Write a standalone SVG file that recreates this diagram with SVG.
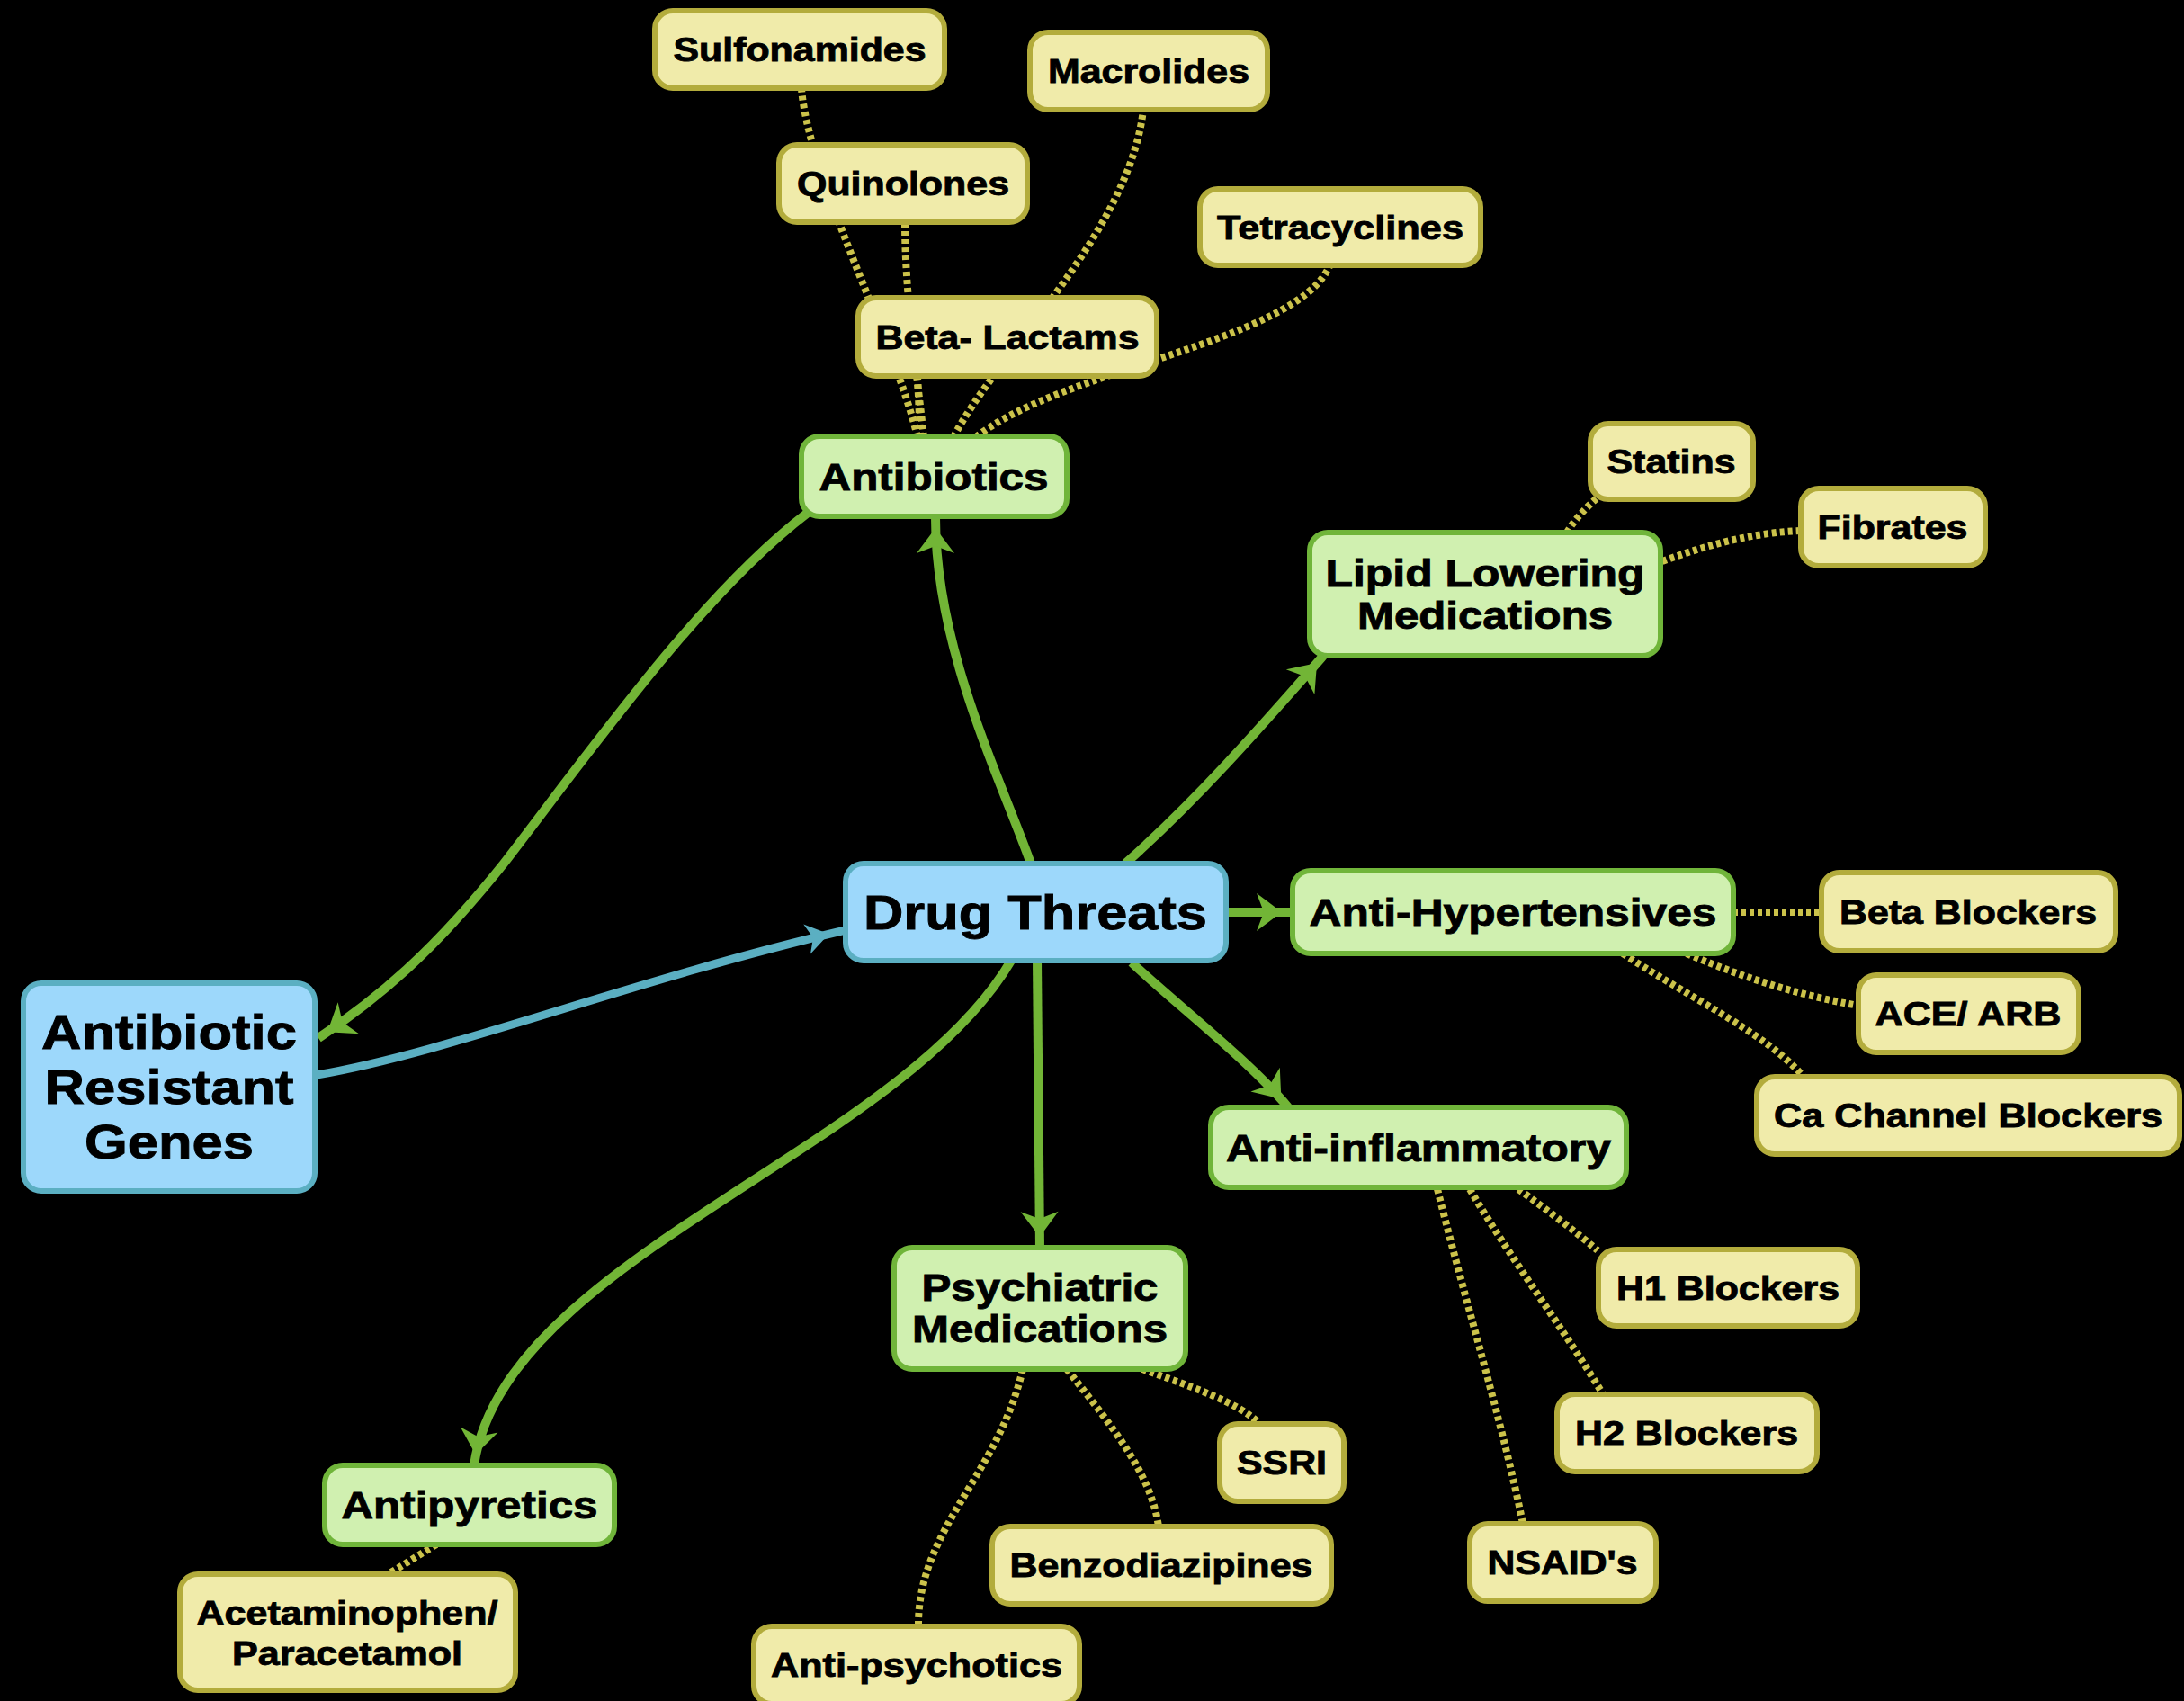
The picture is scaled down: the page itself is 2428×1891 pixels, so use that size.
<svg xmlns="http://www.w3.org/2000/svg" width="2428" height="1891" viewBox="0 0 2428 1891">
<defs>
<style>
text{font-family:"Liberation Sans",Arial,Helvetica,sans-serif;font-weight:bold;fill:#000;stroke:#000;stroke-width:0.9;text-anchor:middle}
.y rect{fill:#F0EBAA;stroke:#B3AC3C;stroke-width:6}
.g rect{fill:#D0F0B0;stroke:#70B53A;stroke-width:6}
.b rect{fill:#9DD8FB;stroke:#5BAFC2;stroke-width:6}
.y text{font-size:37px}
.g text{font-size:42px}
.b text{font-size:53px}
.gl{fill:none;stroke:#72B536;stroke-width:10;marker-end:url(#ag)}
.tl{fill:none;stroke:#5BAFC2;stroke-width:9;marker-end:url(#at)}
.dl{fill:none;stroke:#CBC24A;stroke-width:8;stroke-dasharray:5 4}
</style>
<marker id="ag" markerUnits="userSpaceOnUse" markerWidth="60" markerHeight="60" refX="40" refY="0" orient="auto" overflow="visible"><path d="M0,-21 L28,0 L0,21 L8,0 Z" fill="#72B536"/></marker>
<marker id="at" markerUnits="userSpaceOnUse" markerWidth="60" markerHeight="60" refX="44" refY="0" orient="auto" overflow="visible"><path d="M0,-17 L25,0 L0,17 L7,0 Z" fill="#5BAFC2"/></marker>
</defs>
<rect width="2428" height="1891" fill="#000"/>
<g id="connectors">
<path class="dl" d="M1020,486 C995,380 900,200 891,99"/>
<path class="dl" d="M1027,486 C1020,420 1006,330 1006,248"/>
<path class="dl" d="M1023,486 L1020,418"/>
<path class="dl" d="M1060,486 C1110,390 1255,260 1271,122"/>
<path class="dl" d="M1085,486 C1180,410 1440,380 1478,296"/>
<path class="dl" d="M1742,592 C1752,575 1765,563 1776,553"/>
<path class="dl" d="M1848,624 C1900,605 1950,592 2002,590"/>
<path class="dl" d="M1927,1014 L2025,1014"/>
<path class="dl" d="M1875,1060 C1950,1092 2010,1108 2066,1118"/>
<path class="dl" d="M1804,1060 C1880,1110 1965,1150 2005,1197"/>
<path class="dl" d="M1688,1322 C1720,1345 1750,1368 1776,1390"/>
<path class="dl" d="M1634,1322 C1680,1400 1740,1480 1782,1550"/>
<path class="dl" d="M1598,1322 C1630,1450 1670,1580 1693,1694"/>
<path class="dl" d="M1270,1522 C1320,1540 1380,1560 1400,1583"/>
<path class="dl" d="M1186,1522 C1240,1590 1280,1640 1288,1697"/>
<path class="dl" d="M1137,1522 C1110,1640 1020,1700 1021,1808"/>
<path class="dl" d="M485,1717 L430,1751"/>
<path class="gl" d="M1146,960 C1110,860 1040,720 1040,575"/>
<path class="gl" d="M1251,960 C1330,890 1400,810 1472,728"/>
<path class="gl" d="M1363,1014 L1437,1014"/>
<path class="gl" d="M1258,1070 C1300,1110 1390,1180 1432,1231"/>
<path class="gl" d="M1153,1068 L1156,1387"/>
<path class="gl" d="M1124,1068 C1000,1280 560,1400 527,1629"/>
<path class="gl" d="M898,570 C780,660 660,830 560,960 C480,1060 420,1110 354,1154"/>
<path class="tl" d="M352,1195 C500,1170 700,1090 940,1034"/>
</g>
<g id="arg" class="b"><rect x="26" y="1093" width="324" height="231" rx="20"/>
<text x="188" y="1166" textLength="284" lengthAdjust="spacingAndGlyphs">Antibiotic</text>
<text x="188" y="1227" textLength="277" lengthAdjust="spacingAndGlyphs">Resistant</text>
<text x="188" y="1288" textLength="188" lengthAdjust="spacingAndGlyphs">Genes</text></g>
<g id="drug-threats" class="b"><rect x="940" y="960" width="423" height="108" rx="20"/>
<text x="1151" y="1033" textLength="382" lengthAdjust="spacingAndGlyphs">Drug Threats</text></g>
<g id="antibiotics" class="g"><rect x="891" y="485" width="295" height="89" rx="20"/>
<text x="1038" y="545" textLength="255" lengthAdjust="spacingAndGlyphs">Antibiotics</text></g>
<g id="lipid" class="g"><rect x="1456" y="592" width="390" height="137" rx="20"/>
<text x="1651" y="652" textLength="355" lengthAdjust="spacingAndGlyphs">Lipid Lowering</text>
<text x="1651" y="699" textLength="284" lengthAdjust="spacingAndGlyphs">Medications</text></g>
<g id="anti-hypertensives" class="g"><rect x="1437" y="968" width="490" height="92" rx="20"/>
<text x="1682" y="1029" textLength="453" lengthAdjust="spacingAndGlyphs">Anti-Hypertensives</text></g>
<g id="anti-inflammatory" class="g"><rect x="1346" y="1231" width="462" height="89" rx="20"/>
<text x="1577" y="1291" textLength="428" lengthAdjust="spacingAndGlyphs">Anti-inflammatory</text></g>
<g id="psychiatric" class="g"><rect x="994" y="1387" width="324" height="135" rx="20"/>
<text x="1156" y="1446" textLength="263" lengthAdjust="spacingAndGlyphs">Psychiatric</text>
<text x="1156" y="1492" textLength="284" lengthAdjust="spacingAndGlyphs">Medications</text></g>
<g id="antipyretics" class="g"><rect x="361" y="1629" width="322" height="88" rx="20"/>
<text x="522" y="1688" textLength="285" lengthAdjust="spacingAndGlyphs">Antipyretics</text></g>
<g id="sulfonamides" class="y"><rect x="728" y="12" width="322" height="86" rx="20"/>
<text x="889" y="68" textLength="281" lengthAdjust="spacingAndGlyphs">Sulfonamides</text></g>
<g id="macrolides" class="y"><rect x="1145" y="36" width="264" height="86" rx="20"/>
<text x="1277" y="92" textLength="224" lengthAdjust="spacingAndGlyphs">Macrolides</text></g>
<g id="quinolones" class="y"><rect x="866" y="161" width="276" height="86" rx="20"/>
<text x="1004" y="217" textLength="236" lengthAdjust="spacingAndGlyphs">Quinolones</text></g>
<g id="tetracyclines" class="y"><rect x="1334" y="210" width="312" height="85" rx="20"/>
<text x="1490" y="266" textLength="274" lengthAdjust="spacingAndGlyphs">Tetracyclines</text></g>
<g id="beta-lactams" class="y"><rect x="954" y="331" width="332" height="87" rx="20"/>
<text x="1120" y="388" textLength="293" lengthAdjust="spacingAndGlyphs">Beta- Lactams</text></g>
<g id="statins" class="y"><rect x="1768" y="471" width="181" height="84" rx="20"/>
<text x="1858" y="526" textLength="143" lengthAdjust="spacingAndGlyphs">Statins</text></g>
<g id="fibrates" class="y"><rect x="2002" y="543" width="205" height="86" rx="20"/>
<text x="2104" y="599" textLength="167" lengthAdjust="spacingAndGlyphs">Fibrates</text></g>
<g id="beta-blockers" class="y"><rect x="2025" y="970" width="327" height="87" rx="20"/>
<text x="2188" y="1027" textLength="286" lengthAdjust="spacingAndGlyphs">Beta Blockers</text></g>
<g id="ace-arb" class="y"><rect x="2066" y="1084" width="245" height="86" rx="20"/>
<text x="2188" y="1140" textLength="207" lengthAdjust="spacingAndGlyphs">ACE/ ARB</text></g>
<g id="ca-channel" class="y"><rect x="1953" y="1197" width="470" height="86" rx="20"/>
<text x="2188" y="1253" textLength="432" lengthAdjust="spacingAndGlyphs">Ca Channel Blockers</text></g>
<g id="h1" class="y"><rect x="1777" y="1389" width="288" height="85" rx="20"/>
<text x="1921" y="1445" textLength="248" lengthAdjust="spacingAndGlyphs">H1 Blockers</text></g>
<g id="h2" class="y"><rect x="1731" y="1550" width="289" height="86" rx="20"/>
<text x="1875" y="1606" textLength="248" lengthAdjust="spacingAndGlyphs">H2 Blockers</text></g>
<g id="nsaids" class="y"><rect x="1634" y="1694" width="207" height="86" rx="20"/>
<text x="1737" y="1750" textLength="167" lengthAdjust="spacingAndGlyphs">NSAID's</text></g>
<g id="ssri" class="y"><rect x="1356" y="1583" width="138" height="86" rx="20"/>
<text x="1425" y="1639" textLength="100" lengthAdjust="spacingAndGlyphs">SSRI</text></g>
<g id="benzodiazipines" class="y"><rect x="1103" y="1697" width="377" height="86" rx="20"/>
<text x="1291" y="1753" textLength="337" lengthAdjust="spacingAndGlyphs">Benzodiazipines</text></g>
<g id="anti-psychotics" class="y"><rect x="838" y="1808" width="362" height="86" rx="20"/>
<text x="1019" y="1864" textLength="324" lengthAdjust="spacingAndGlyphs">Anti-psychotics</text></g>
<g id="acetaminophen" class="y"><rect x="200" y="1750" width="373" height="129" rx="20"/>
<text x="386" y="1806" textLength="335" lengthAdjust="spacingAndGlyphs">Acetaminophen/</text>
<text x="386" y="1851" textLength="256" lengthAdjust="spacingAndGlyphs">Paracetamol</text></g>
</svg>
